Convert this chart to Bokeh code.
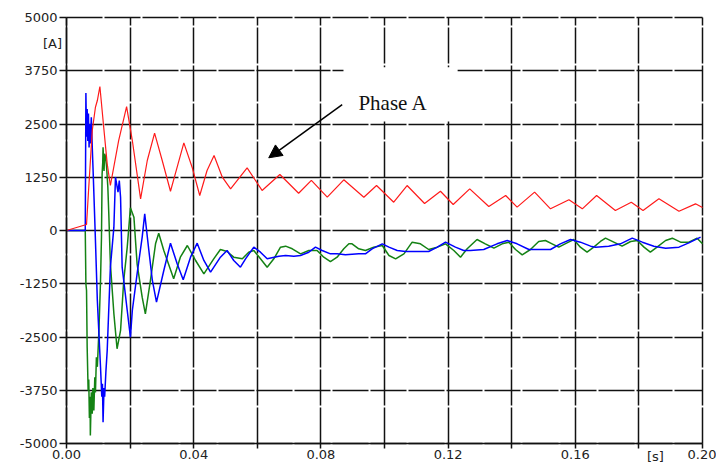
from bokeh.plotting import figure
from bokeh.models import Range1d, FixedTicker, Label, Arrow, NormalHead, BoxAnnotation
from bokeh.embed import file_html
from bokeh.resources import INLINE

# ---------------- data ----------------
x_ticks = [0.00, 0.02, 0.04, 0.06, 0.08, 0.10, 0.12, 0.14, 0.16, 0.18, 0.20]
x_tick_labels = ["0.00", "", "0.04", "", "0.08", "", "0.12", "", "0.16", "", "0.20"]
y_ticks = [-5000, -3750, -2500, -1250, 0, 1250, 2500, 3750, 5000]
y_tick_labels = ["-5000", "-3750", "-2500", "-1250", "0", "1250", "2500", "3750", "5000"]

red_t = [0.0, 0.0063, 0.0070, 0.0081, 0.0091, 0.0097, 0.0105, 0.0117, 0.0128, 0.0138,
         0.0164, 0.0189, 0.0207, 0.0233, 0.0254, 0.0277, 0.0301, 0.0327, 0.0348, 0.0369,
         0.0395, 0.0419, 0.0442, 0.0464, 0.0490, 0.0516, 0.0568, 0.0615, 0.0671, 0.0730,
         0.0770, 0.0820, 0.0872, 0.0935, 0.0975, 0.1029, 0.1071, 0.1126, 0.1176, 0.1216,
         0.1268, 0.1328, 0.1381, 0.1417, 0.1472, 0.1522, 0.1580, 0.1622, 0.1667, 0.1726,
         0.1776, 0.1813, 0.1863, 0.1926, 0.1978, 0.2000]
red_v = [0, 140, 1016, 2347, 2894, 3051, 3380, 2425, 1565, 1056,
         2112, 2910, 2112, 744, 1643, 2284, 1643, 922, 1486, 2058,
         1486, 821, 1408, 1760, 1251, 978, 1470, 940, 1315, 875,
         1175, 782, 1190, 782, 1056, 664, 1056, 634, 922, 610,
         978, 563, 821, 548, 900, 509, 720, 509, 821, 470,
         665, 470, 743, 453, 626, 540]

blue_t = [0.0, 0.0059, 0.0061, 0.0063, 0.0065, 0.0067, 0.0069, 0.0071, 0.0073, 0.0075,
          0.0078, 0.0081, 0.0084, 0.0090, 0.0097, 0.0107, 0.0111, 0.0113, 0.0115, 0.0118,
          0.0120, 0.0124, 0.0128, 0.0138, 0.0149, 0.0154, 0.0162, 0.0166, 0.0170, 0.0175,
          0.0191, 0.0201, 0.0207, 0.0222, 0.0238, 0.0246, 0.0259, 0.0270, 0.0283, 0.0306,
          0.0327, 0.0348, 0.0367, 0.0390, 0.0411, 0.0432, 0.0453, 0.0484, 0.0505, 0.0526,
          0.0547, 0.0563, 0.0589, 0.0610, 0.0631, 0.0668, 0.0689, 0.0715, 0.0736, 0.0762,
          0.0783, 0.0804, 0.0830, 0.0851, 0.0877, 0.0919, 0.0940, 0.0961, 0.0993, 0.1014,
          0.1040, 0.1066, 0.1139, 0.1166, 0.1192, 0.1223, 0.1249, 0.1270, 0.1312, 0.1354,
          0.1386, 0.1417, 0.1454, 0.1480, 0.1522, 0.1553, 0.1585, 0.1616, 0.1648, 0.1664,
          0.1705, 0.1742, 0.1779, 0.1811, 0.1847, 0.1884, 0.1926, 0.1957, 0.1994]
blue_v = [0, 0, 3230, 2200, 2850, 2100, 2745, 1950, 2500, 2040,
          2660, 1955, 1330, 0, -1643, -3208, -3900, -3600, -4500, -3700,
          -3900, -3300, -2816, -861, 78, 1251, 900, 1170, 781, -861,
          -1878, -2504, -1878, -1017, -157, 391, -469, -1173, -1683, -939,
          -298, -782, -1157, -626, -298, -704, -978, -626, -469, -704,
          -861, -665, -391, -509, -665, -603, -587, -603, -587, -509,
          -391, -469, -548, -548, -571, -548, -548, -430, -313, -391,
          -469, -493, -493, -391, -274, -391, -469, -469, -446, -313,
          -235, -313, -446, -446, -446, -313, -211, -274, -368, -391,
          -368, -313, -180, -274, -368, -415, -391, -290, -157]

green_t = [0.0, 0.0059, 0.0061, 0.0063, 0.0065, 0.0068, 0.0070, 0.0072, 0.0074, 0.0075,
           0.0078, 0.0081, 0.0083, 0.0086, 0.0089, 0.0091, 0.0094, 0.0097, 0.0102, 0.0107,
           0.0110, 0.0112, 0.0114, 0.0115, 0.0118, 0.0120, 0.0123, 0.0126, 0.0130, 0.0133,
           0.0138, 0.0149, 0.0159, 0.0170, 0.0180, 0.0191, 0.0201, 0.0212, 0.0222, 0.0238,
           0.0248, 0.0264, 0.0280, 0.0290, 0.0306, 0.0337, 0.0358, 0.0380, 0.0406, 0.0432,
           0.0463, 0.0484, 0.0505, 0.0526, 0.0553, 0.0573, 0.0589, 0.0610, 0.0631, 0.0652,
           0.0673, 0.0689, 0.0710, 0.0736, 0.0762, 0.0788, 0.0809, 0.0830, 0.0851, 0.0872,
           0.0888, 0.0898, 0.0919, 0.0940, 0.0966, 0.0993, 0.1014, 0.1035, 0.1061, 0.1087,
           0.1113, 0.1139, 0.1166, 0.1192, 0.1218, 0.1239, 0.1260, 0.1291, 0.1317, 0.1344,
           0.1370, 0.1391, 0.1412, 0.1433, 0.1459, 0.1485, 0.1506, 0.1527, 0.1548, 0.1574,
           0.1595, 0.1616, 0.1637, 0.1658, 0.1679, 0.1695, 0.1721, 0.1747, 0.1774, 0.1795,
           0.1816, 0.1836, 0.1857, 0.1884, 0.1905, 0.1931, 0.1957, 0.1983, 0.2000]
green_v = [0, 0, -1250, -1408, -2739, -3755, -3500, -4400, -3900, -4811,
           -3800, -4300, -3700, -4225, -3443, -3800, -2974, -3200, -2347, -1173,
           -157, 1330, 1600, 1955, 1400, 1800, 1720, 1500, 1016, 391,
           -782, -1955, -2777, -2347, -1173, -391, 532, 313, -782, -1565,
           -1955, -1173, -313, -63, -469, -1134, -626, -352, -704, -1017,
           -665, -446, -493, -626, -665, -509, -469, -665, -861, -665,
           -391, -368, -430, -548, -469, -469, -626, -728, -626, -430,
           -313, -313, -430, -469, -391, -352, -587, -665, -548, -274,
           -313, -446, -391, -313, -469, -626, -430, -211, -313, -415,
           -313, -274, -446, -571, -446, -258, -235, -313, -391, -290,
           -211, -391, -509, -391, -258, -180, -274, -368, -258, -235,
           -391, -509, -391, -235, -180, -274, -274, -180, -313]

# ---------------- layout (pixel geometry of the reference) ----------------
W, H = 716, 465
FL, FR, FT, FB = 66, 702, 17, 443          # plotted area edges in pixels
XMIN, XMAX, YMIN, YMAX = 0.0, 0.2, -5000, 5000
kx = (XMAX - XMIN) / (FR - FL)
ky = (YMAX - YMIN) / (FB - FT)

p = figure(width=W, height=H, output_backend="svg", toolbar_location=None,
           x_range=Range1d(XMIN - FL * kx, XMAX + (W - FR) * kx),
           y_range=Range1d(YMIN - (H - FB) * ky, YMAX + FT * ky),
           min_border=0, min_border_left=0, min_border_right=0,
           min_border_top=0, min_border_bottom=0)
p.background_fill_color = "white"
p.border_fill_color = "white"
p.outline_line_color = None

p.xaxis.fixed_location = YMIN
p.yaxis.fixed_location = XMIN
p.xaxis.bounds = (XMIN, XMAX)
p.yaxis.bounds = (YMIN, YMAX)
p.xaxis.ticker = FixedTicker(ticks=x_ticks)
p.xaxis.major_label_overrides = dict(zip(x_ticks, x_tick_labels))
p.yaxis.ticker = FixedTicker(ticks=y_ticks)
p.yaxis.major_label_overrides = dict(zip(y_ticks, y_tick_labels))

for ax in (p.xaxis, p.yaxis):
    ax.axis_line_color = "#111111"
    ax.axis_line_width = 1.5
    ax.major_tick_line_color = "#111111"
    ax.major_tick_line_width = 1.5
    ax.major_tick_in = 0
    ax.minor_tick_line_color = None
    ax.major_label_text_font = "DejaVu Sans"
    ax.major_label_text_font_size = "13px"
    ax.major_label_text_color = "#222222"
p.xaxis.major_tick_out = 5
p.xaxis.major_label_standoff = 1
p.yaxis.major_tick_out = 7
p.yaxis.major_label_standoff = 2

p.xgrid.ticker = FixedTicker(ticks=x_ticks)
p.ygrid.ticker = FixedTicker(ticks=y_ticks)
p.xgrid.cross_bounds = (YMIN, YMAX)
p.ygrid.cross_bounds = (XMIN, XMAX)
for g in (p.xgrid, p.ygrid):
    g.grid_line_color = "#111111"
    g.grid_line_width = 1.5
    g.grid_line_alpha = 1.0
    g.grid_line_dash = "36 2"

p.line(green_t, green_v, line_color="#148214", line_width=1.5)
p.line(blue_t, blue_v, line_color="#0000ff", line_width=1.5)
p.line(red_t, red_v, line_color="#ff1a1a", line_width=1.2)

# white box behind annotation text
p.add_layout(BoxAnnotation(left=0.0871, right=0.1230, bottom=2560, top=3830,
                           fill_color="white", fill_alpha=1.0, line_alpha=0.0))
p.add_layout(Label(x=0.0918, y=3004, text="Phase A", text_font="Liberation Serif",
                   text_font_size="21px", text_color="#111111", text_baseline="alphabetic"))
p.add_layout(Arrow(end=NormalHead(size=13, fill_color="black", line_color="black"),
                   x_start=0.0867, y_start=2957, x_end=0.0636, y_end=1706,
                   line_color="black", line_width=1.5))

p.add_layout(Label(x=-0.0044, y=4401, text="[A]", text_font="DejaVu Sans",
                   text_font_size="13px", text_color="#222222",
                   text_align="center", text_baseline="middle"))
p.add_layout(Label(x=0.1852, y=YMIN, y_offset=-5, text="[s]", text_font="DejaVu Sans",
                   text_font_size="13px", text_color="#222222",
                   text_align="center", text_baseline="top"))

open("out.html", "w").write(file_html(p, INLINE))
